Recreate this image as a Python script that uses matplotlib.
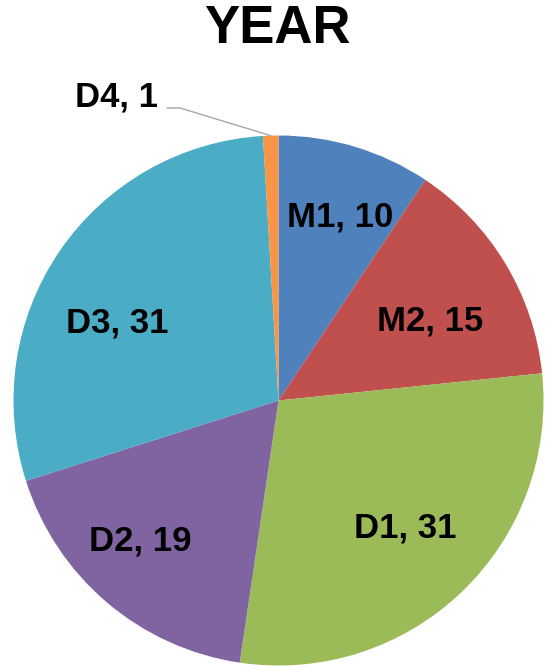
import numpy as np
import matplotlib
matplotlib.use("Agg")
import matplotlib.pyplot as plt

plt.rcParams["font.family"] = ["Liberation Sans", "DejaVu Sans"]

labels = ["M1", "M2", "D1", "D2", "D3", "D4"]
values = [10, 15, 31, 19, 31, 1]
colors = ["#4F81BD", "#C0504D", "#9BBB59", "#8064A2", "#4BACC6", "#F79646"]

# label placement: radial distance and angular nudge (degrees) from wedge middle
label_radius = [0.73, 0.646, 0.677, 0.745, 0.675, None]
label_shift = [-1.7, -3.4, 1.1, -4.2, 8.7, 0.0]

W, H = 547, 667
fig = plt.figure(figsize=(W / 100, H / 100), dpi=100)

cx, cy, r = 278.5, 400.5, 265.0
ax = fig.add_axes([(cx - r) / W, (H - cy - r) / H, 2 * r / W, 2 * r / H])

wedges, _ = ax.pie(
    values,
    colors=colors,
    startangle=90,
    counterclock=False,
    radius=1.0,
    wedgeprops=dict(linewidth=0),
)
ax.set_xlim(-1, 1)
ax.set_ylim(-1, 1)
ax.set_aspect("equal")
ax.axis("off")

for w, lab, val, rad, shift in zip(wedges, labels, values, label_radius, label_shift):
    mid = np.deg2rad((w.theta1 + w.theta2) / 2 + shift)
    text = f"{lab}, {val}"
    if rad is None:
        # small slice: label outside with leader line
        ex, ey = np.cos(mid), np.sin(mid)
        tx, ty = -0.613, 1.145
        ax.plot([ex, -0.372, -0.42], [ey, 1.104, 1.104], color="#A6A6A6",
                lw=1.0, clip_on=False)
        ax.text(tx, ty, text, ha="center", va="center", fontsize=25,
                fontweight="bold", color="black", clip_on=False)
    else:
        ax.text(rad * np.cos(mid), rad * np.sin(mid), text, ha="center",
                va="center", fontsize=25, fontweight="bold", color="black")

fig.text(277 / W, 1 - 29 / H, "YEAR", ha="center", va="center", fontsize=38,
         fontweight="bold", color="black")

fig.savefig("out.png", dpi=100)
